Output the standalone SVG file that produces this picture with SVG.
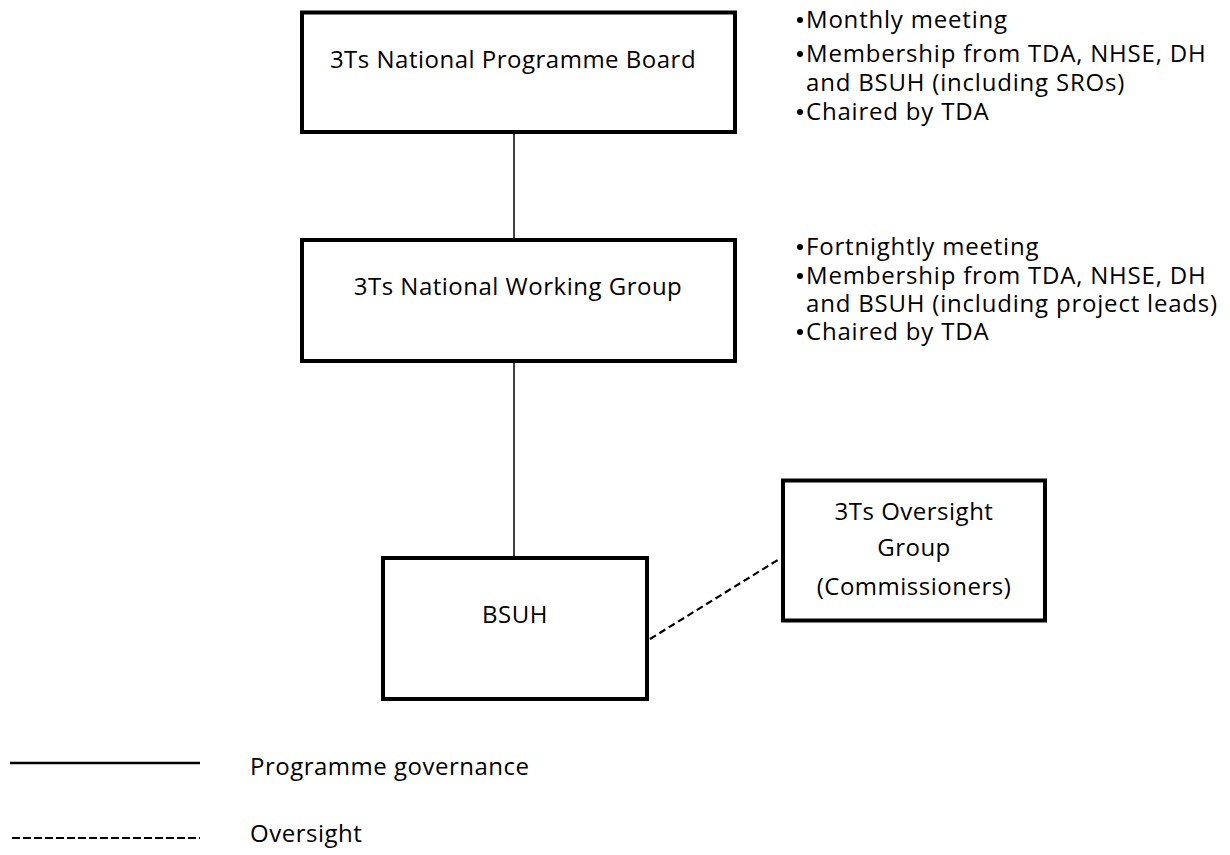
<svg xmlns="http://www.w3.org/2000/svg" width="1230" height="855" viewBox="0 0 1230 855">
<style>
  .box { fill: #ffffff; stroke: #000000; stroke-width: 4; }
  .t { font-family: "Open Sans", "Liberation Sans", sans-serif; font-size: 24px; letter-spacing: 0.5px; fill: #000000; }
  .n { letter-spacing: 0.8px; }
  .c { text-anchor: middle; }
  .solid { stroke: #000000; stroke-width: 1.5; fill: none; }
  .dash { stroke: #000000; stroke-width: 2.2; stroke-dasharray: 7 4; fill: none; }
  .bul { fill: #000000; }
</style>
<rect width="1230" height="855" fill="#ffffff"/>
<g id="connectors">
  <line class="solid" x1="514" y1="134" x2="514" y2="238"/>
  <line class="solid" x1="514" y1="363" x2="514" y2="556"/>
  <line class="dash" x1="650" y1="639" x2="781" y2="558"/>
</g>
<g id="board">
  <rect class="box" x="302" y="12.5" width="433" height="119.5"/>
  <text class="t c" x="513" y="68">3Ts National Programme Board</text>
</g>
<g id="board-notes">
  <circle class="bul" cx="800" cy="20" r="3"/><text class="t n" x="806" y="28">Monthly meeting</text>
  <circle class="bul" cx="800" cy="54" r="3"/><text class="t n" x="806" y="62">Membership from TDA, NHSE, DH</text>
  <text class="t n" x="806" y="91">and BSUH (including SROs)</text>
  <circle class="bul" cx="800" cy="112" r="3"/><text class="t n" x="806" y="120">Chaired by TDA</text>
</g>
<g id="working-group">
  <rect class="box" x="302" y="240" width="433" height="121"/>
  <text class="t c" x="518" y="295">3Ts National Working Group</text>
</g>
<g id="working-group-notes">
  <circle class="bul" cx="800" cy="247" r="3"/><text class="t n" x="806" y="255">Fortnightly meeting</text>
  <circle class="bul" cx="800" cy="276" r="3"/><text class="t n" x="806" y="284">Membership from TDA, NHSE, DH</text>
  <text class="t n" x="806" y="312">and BSUH (including project leads)</text>
  <circle class="bul" cx="800" cy="332" r="3"/><text class="t n" x="806" y="340">Chaired by TDA</text>
</g>
<g id="bsuh">
  <rect class="box" x="383" y="558" width="264" height="141"/>
  <text class="t c" x="515" y="623">BSUH</text>
</g>
<g id="oversight-group">
  <rect class="box" x="783" y="480.5" width="262" height="140"/>
  <text class="t c" x="914" y="520">3Ts Oversight</text>
  <text class="t c" x="914" y="556">Group</text>
  <text class="t c" x="914" y="595">(Commissioners)</text>
</g>
<g id="legend">
  <line stroke="#000" stroke-width="2.5" x1="10" y1="763" x2="200" y2="763"/>
  <line stroke="#000" stroke-width="2" stroke-dasharray="8 3" x1="12" y1="838" x2="200" y2="838"/>
  <text class="t" x="250" y="775">Programme governance</text>
  <text class="t" x="250" y="842">Oversight</text>
</g>
</svg>
